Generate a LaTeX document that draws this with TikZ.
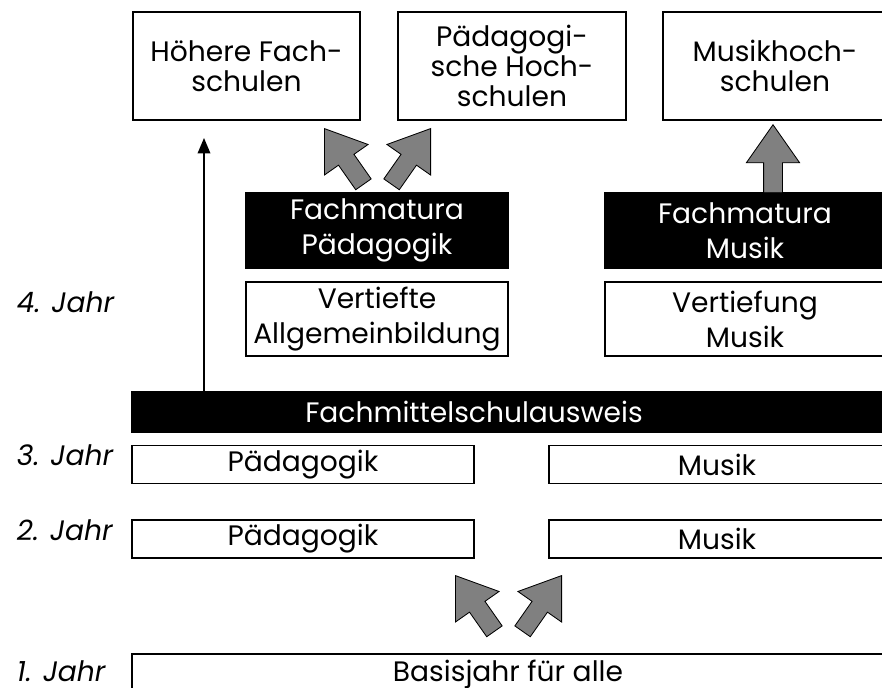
\documentclass[tikz,border=0pt]{standalone}
\usepackage{fontspec}
\setmainfont{Poppins}
\usetikzlibrary{shapes.arrows,arrows.meta}

\begin{document}
\begin{tikzpicture}[x=0.025cm, y=-0.025cm,
    box/.style={draw, line width=1.1pt, inner sep=0pt, align=center,
        font=\fontsize{20}{25}\selectfont},
    topbox/.style={box, minimum height=2.7cm, font=\fontsize{20}{21.5}\selectfont},
    blackbox/.style={box, fill=black, text=white},
    rowbox/.style={box, minimum height=0.94cm},
    yearlabel/.style={anchor=base west, font=\fontsize{20}{21}\selectfont\itshape},
    fatarrow/.style={single arrow, draw=black, fill=black!50, line width=0.6pt,
        minimum height=1.7cm, inner xsep=0pt, inner ysep=0.225cm,
        single arrow head extend=0.43cm, single arrow tip angle=70, anchor=tip}]
    \useasboundingbox (0,0) rectangle (882,688);

    % Abschluesse oben
    \node[topbox, minimum width=5.675cm] (hfs) at (246.5,66) {Höhere Fach-\\schulen};
    \node[topbox, minimum width=5.7cm] (phs) at (512,66) {Pädagogi-\\sche Hoch-\\schulen};
    \node[topbox, minimum width=5.6cm] (mhs) at (775,66) {Musikhoch-\\schulen};

    % 4. Jahr
    \node[blackbox, minimum width=6.55cm, minimum height=1.875cm] (fmp) at (377,230.5) {Fachmatura\\Pädagogik};
    \node[box, minimum width=6.55cm, minimum height=1.85cm] (va) at (377,319) {Vertiefte\\Allgemeinbildung};
    \node[blackbox, minimum width=7cm, minimum height=1.875cm] (fmm) at (745,230.5) {Fachmatura\\Musik};
    \node[box, minimum width=7cm, minimum height=1.85cm] (vm) at (745,319) {Vertiefung\\Musik};

    % Ausweis
    \node[blackbox, minimum width=18.8cm, minimum height=1cm,
        label={[text=white, xshift=-0.85cm, font=\fontsize{20}{21}\selectfont]center:Fachmittelschulausweis}] (fsa) at (508,412) {};

    % 2. und 3. Jahr
    \node[rowbox, minimum width=8.55cm] (p3) at (303,464.5) {Pädagogik};
    \node[rowbox, minimum width=8.4cm] (m3) at (717,464.5) {Musik};
    \node[rowbox, minimum width=8.55cm] (p2) at (303,539) {Pädagogik};
    \node[rowbox, minimum width=8.4cm] (m2) at (717,539) {Musik};

    % 1. Jahr
    \node[box, minimum width=18.8cm, minimum height=1.5cm, anchor=north] (bj) at (508,653) {};
    \node[font=\fontsize{20}{21}\selectfont, anchor=base] (bjt) at (bj.north |- 0,681) {Basisjahr für alle};

    % Jahre
    \node[yearlabel] (j4) at (12,313) {4. Jahr};
    \node[yearlabel] (j3) at (12,466) {3. Jahr};
    \node[yearlabel] (j2) at (12,540) {2. Jahr};
    \node[yearlabel] (j1) at (12,681) {1. Jahr};

    % Pfeile
    \coordinate (up) at (204,138);
    \draw[line width=1.1pt, -{Triangle[width=9pt,length=11pt]}] (fsa.north -| up) -- (up);
    \node[fatarrow, rotate=125] (a1) at (324,128) {};
    \node[fatarrow, rotate=55] (a2) at (431,128) {};
    \node[fatarrow, rotate=90] (a3) at (773,124) {};
    \node[fatarrow, rotate=125] (a4) at (455,575) {};
    \node[fatarrow, rotate=55] (a5) at (562,575) {};
\end{tikzpicture}
\end{document}
